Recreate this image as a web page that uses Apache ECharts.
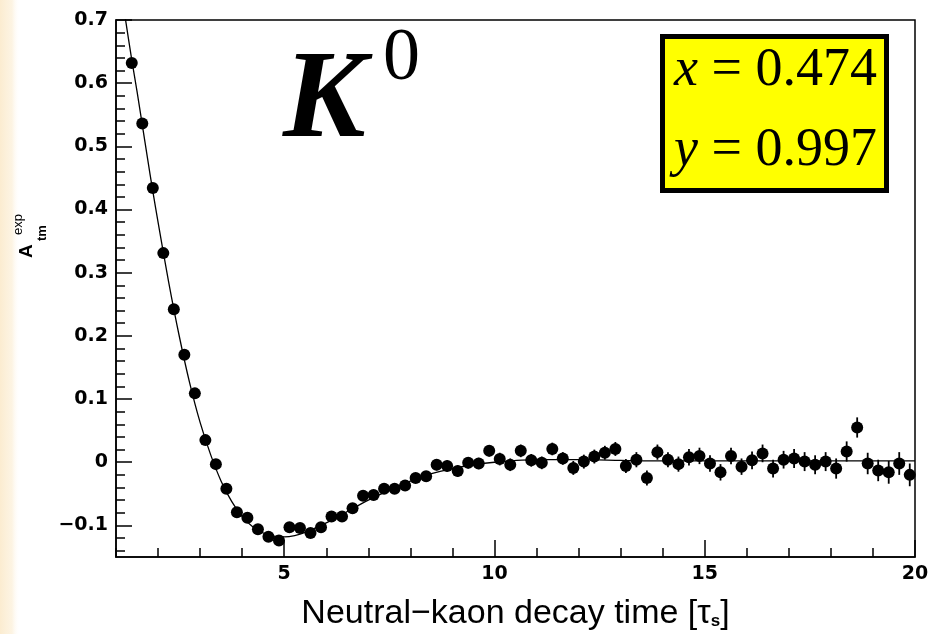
<!DOCTYPE html>
<html>
<head>
<meta charset="utf-8">
<script src="https://cdn.jsdelivr.net/npm/echarts@6/dist/echarts.min.js"></script>
<style>
  html, body { margin: 0; padding: 0; background: #ffffff; }
  #chart { width: 928px; height: 634px; }
</style>
</head>
<body>
<div id="chart"></div>
<script>
// Decay-time bin centres, in units of the K_S lifetime
const decayTime = [
  1.375, 1.625, 1.875, 2.125, 2.375, 2.625, 2.875, 3.125, 3.375, 3.625,
  3.875, 4.125, 4.375, 4.625, 4.875, 5.125, 5.375, 5.625, 5.875, 6.125,
  6.375, 6.625, 6.875, 7.125, 7.375, 7.625, 7.875, 8.125, 8.375, 8.625,
  8.875, 9.125, 9.375, 9.625, 9.875, 10.125, 10.375, 10.625, 10.875, 11.125,
  11.375, 11.625, 11.875, 12.125, 12.375, 12.625, 12.875, 13.125, 13.375, 13.625,
  13.875, 14.125, 14.375, 14.625, 14.875, 15.125, 15.375, 15.625, 15.875, 16.125,
  16.375, 16.625, 16.875, 17.125, 17.375, 17.625, 17.875, 18.125, 18.375, 18.625,
  18.875, 19.125, 19.375, 19.625, 19.875
];

// Measured asymmetry per bin
const asymmetry = [
  0.632, 0.536, 0.434, 0.331, 0.242, 0.170, 0.109, 0.035, -0.003, -0.042,
  -0.079, -0.088, -0.106, -0.118, -0.124, -0.103, -0.104, -0.112, -0.103, -0.086,
  -0.086, -0.073, -0.053, -0.052, -0.042, -0.042, -0.037, -0.025, -0.022, -0.004,
  -0.006, -0.014, -0.001, -0.002, 0.018, 0.005, -0.004, 0.018, 0.003, -0.001,
  0.021, 0.006, -0.009, 0.001, 0.009, 0.015, 0.021, -0.006, 0.004, -0.025,
  0.016, 0.004, -0.003, 0.008, 0.010, -0.002, -0.016, 0.010, -0.007, 0.003,
  0.014, -0.010, 0.004, 0.006, 0.001, -0.004, 0.001, -0.010, 0.017, 0.055,
  -0.002, -0.013, -0.016, -0.002, -0.020
];

// Statistical error per bin
const asymErr = [
  0.004, 0.004, 0.004, 0.004, 0.005, 0.005, 0.005, 0.005, 0.005, 0.006,
  0.006, 0.006, 0.006, 0.006, 0.006, 0.007, 0.007, 0.007, 0.007, 0.007,
  0.007, 0.007, 0.008, 0.008, 0.008, 0.008, 0.008, 0.008, 0.008, 0.009,
  0.009, 0.009, 0.009, 0.009, 0.009, 0.010, 0.010, 0.010, 0.010, 0.010,
  0.010, 0.010, 0.011, 0.011, 0.011, 0.011, 0.011, 0.011, 0.012, 0.012,
  0.012, 0.012, 0.012, 0.013, 0.013, 0.013, 0.013, 0.013, 0.013, 0.014,
  0.014, 0.014, 0.014, 0.015, 0.015, 0.015, 0.015, 0.016, 0.016, 0.016,
  0.017, 0.017, 0.018, 0.018, 0.018
];

// Fitted curve, sampled
const fitTime = [
  1.2, 1.375, 1.5, 1.625, 1.75, 1.875, 2, 2.25, 2.5, 2.75, 3, 3.25, 3.5, 3.75,
  4, 4.25, 4.5, 4.75, 5, 5.25, 5.5, 6, 6.5, 7, 7.5, 8, 8.5, 9, 9.5, 10,
  11, 12, 13, 14, 16, 18, 20
];
const fitValue = [
  0.712, 0.637, 0.587, 0.534, 0.481, 0.429, 0.380, 0.286, 0.201, 0.126, 0.063, 0.012, -0.030, -0.062,
  -0.086, -0.102, -0.112, -0.117, -0.118, -0.116, -0.111, -0.096, -0.078, -0.060, -0.044, -0.030, -0.018, -0.010, -0.004, 0.000,
  0.004, 0.004, 0.003, 0.002, 0.002, 0.002, 0.002
];

// Axis ticks
const xMajorTicks = [5, 10, 15, 20];
const yMajorTicks = [-0.1, 0, 0.1, 0.2, 0.3, 0.4, 0.5, 0.6, 0.7];
const yMinorTicks = [];
for (let k = -14; k <= 68; k += 2) yMinorTicks.push(k / 100);

const X_MIN = 1, X_MAX = 20, Y_MIN = -0.15, Y_MAX = 0.7;

const chart = echarts.init(document.getElementById('chart'), null, { renderer: 'canvas' });

const SANS = '"Liberation Sans", Arial, sans-serif';
const WIDE = '"DejaVu Sans", "Liberation Sans", sans-serif';
const SERIF = '"Liberation Serif", "Times New Roman", serif';
const labelFont = { fontFamily: WIDE, fontSize: 19, fontWeight: 'bold', color: '#000' };

const option = {
  animation: false,
  backgroundColor: '#ffffff',
  grid: {
    left: 116, right: 13, top: 20, bottom: 77,
    outerBoundsMode: 'none',
    show: true, borderColor: '#000', borderWidth: 1.5, backgroundColor: '#ffffff'
  },
  xAxis: [
    {
      type: 'value', min: X_MIN, max: X_MAX, position: 'bottom',
      axisLine: { show: true, onZero: false, lineStyle: { color: '#000', width: 1.5 } },
      axisTick: { show: true, inside: true, length: 17, customValues: xMajorTicks, lineStyle: { color: '#000', width: 1.5 } },
      axisLabel: Object.assign({ show: true, margin: 8, customValues: xMajorTicks, hideOverlap: false }, labelFont),
      splitLine: { show: false },
      name: 'Neutral\u2212kaon decay time [\u03c4{sub|s}]',
      nameLocation: 'middle', nameGap: 57,
      nameTextStyle: {
        fontFamily: SANS, fontSize: 34, color: '#000',
        verticalAlign: 'middle',
        rich: { sub: { fontFamily: SANS, fontSize: 17, fontWeight: 'bold', color: '#000', padding: [14, 0, 0, 0] } }
      }
    },
    {
      // minor ticks every 1 unit
      type: 'value', min: X_MIN, max: X_MAX, interval: 1, position: 'bottom',
      axisLine: { show: false, onZero: false },
      axisTick: { show: true, inside: true, length: 9, lineStyle: { color: '#000', width: 1.5 } },
      axisLabel: { show: false },
      splitLine: { show: false }
    }
  ],
  yAxis: [
    {
      type: 'value', min: Y_MIN, max: Y_MAX, position: 'left',
      axisLine: { show: true, onZero: false, lineStyle: { color: '#000', width: 1.5 } },
      axisTick: { show: true, inside: true, length: 16, customValues: yMajorTicks, lineStyle: { color: '#000', width: 1.5 } },
      axisLabel: Object.assign({
        show: true, margin: 8, customValues: yMajorTicks,
        formatter: function (v) {
          if (Math.abs(v) < 1e-9) return '0';
          return (v < 0 ? '\u2212' : '') + Math.abs(v).toFixed(1);
        }
      }, labelFont),
      splitLine: { show: false }
    },
    {
      // minor ticks every 0.02
      type: 'value', min: Y_MIN, max: Y_MAX, position: 'left',
      axisLine: { show: false, onZero: false },
      axisTick: { show: true, inside: true, length: 9, customValues: yMinorTicks, lineStyle: { color: '#000', width: 1.5 } },
      axisLabel: { show: false },
      splitLine: { show: false }
    }
  ],
  series: [
    {
      name: 'fit',
      type: 'line',
      xAxisIndex: 0, yAxisIndex: 0,
      data: fitTime.map((t, i) => [t, fitValue[i]]),
      smooth: 0.3,
      showSymbol: false,
      clip: true,
      lineStyle: { color: '#000', width: 1.3 },
      z: 2
    },
    {
      name: 'errors',
      type: 'custom',
      xAxisIndex: 0, yAxisIndex: 0,
      data: decayTime.map((t, i) => [t, asymmetry[i], asymErr[i]]),
      encode: { x: 0, y: 1 },
      renderItem: function (params, api) {
        const x = api.value(0), y = api.value(1), e = api.value(2);
        const p1 = api.coord([x, y - e]);
        const p2 = api.coord([x, y + e]);
        return {
          type: 'line',
          shape: { x1: p1[0], y1: p1[1], x2: p2[0], y2: p2[1] },
          style: { stroke: '#000', lineWidth: 1.8 }
        };
      },
      z: 3
    },
    {
      name: 'data',
      type: 'scatter',
      xAxisIndex: 0, yAxisIndex: 0,
      data: decayTime.map((t, i) => [t, asymmetry[i]]),
      symbol: 'circle',
      symbolSize: 12,
      itemStyle: { color: '#000', opacity: 1 },
      z: 4
    }
  ],
  graphic: [
    {
      // cream strip along the left edge
      type: 'rect', left: 0, top: 0, silent: true, z: -10,
      shape: { x: 0, y: 0, width: 20, height: 634 },
      style: {
        fill: new echarts.graphic.LinearGradient(0, 0, 1, 0, [
          { offset: 0, color: 'rgba(251,236,208,1)' },
          { offset: 0.6, color: 'rgba(252,241,220,0.8)' },
          { offset: 1, color: 'rgba(255,255,255,0)' }
        ])
      }
    },
    // y axis title: A_tm^exp, reading upwards
    {
      type: 'text', x: 27, y: 258, rotation: Math.PI / 2, z: 10,
      style: { text: 'A', font: 'bold 19px ' + SANS, fill: '#000', align: 'left', verticalAlign: 'middle' }
    },
    {
      type: 'text', x: 42, y: 241, rotation: Math.PI / 2, z: 10,
      style: { text: 'tm', font: 'bold 13px ' + SANS, fill: '#000', align: 'left', verticalAlign: 'middle' }
    },
    {
      type: 'text', x: 18, y: 235, rotation: Math.PI / 2, z: 10,
      style: { text: 'exp', font: '13px ' + SANS, fill: '#000', align: 'left', verticalAlign: 'middle' }
    },
    // K^0 label
    {
      type: 'text', x: 283, y: 104, z: 10,
      style: { text: 'K', font: 'italic bold 124px ' + SERIF, fill: '#000', align: 'left', verticalAlign: 'middle' }
    },
    {
      type: 'text', x: 383, y: 60, z: 10,
      style: { text: '0', font: '74px ' + SERIF, fill: '#000', align: 'left', verticalAlign: 'middle' }
    },
    // parameter box
    {
      type: 'rect', z: 10,
      shape: { x: 662.5, y: 36.5, width: 224, height: 154 },
      style: { fill: '#ffff00', stroke: '#000', lineWidth: 5 }
    },
    {
      type: 'text', x: 877, y: 71, z: 11,
      style: {
        text: '{i|x} = 0.474',
        font: '54px ' + SERIF, fill: '#000',
        align: 'right', verticalAlign: 'middle',
        rich: { i: { fontStyle: 'italic', fontSize: 54, fontFamily: SERIF, color: '#000' } }
      }
    },
    {
      type: 'text', x: 877, y: 151, z: 11,
      style: {
        text: '{i|y} = 0.997',
        font: '54px ' + SERIF, fill: '#000',
        align: 'right', verticalAlign: 'middle',
        rich: { i: { fontStyle: 'italic', fontSize: 54, fontFamily: SERIF, color: '#000' } }
      }
    }
  ]
};

chart.setOption(option);
</script>
</body>
</html>
